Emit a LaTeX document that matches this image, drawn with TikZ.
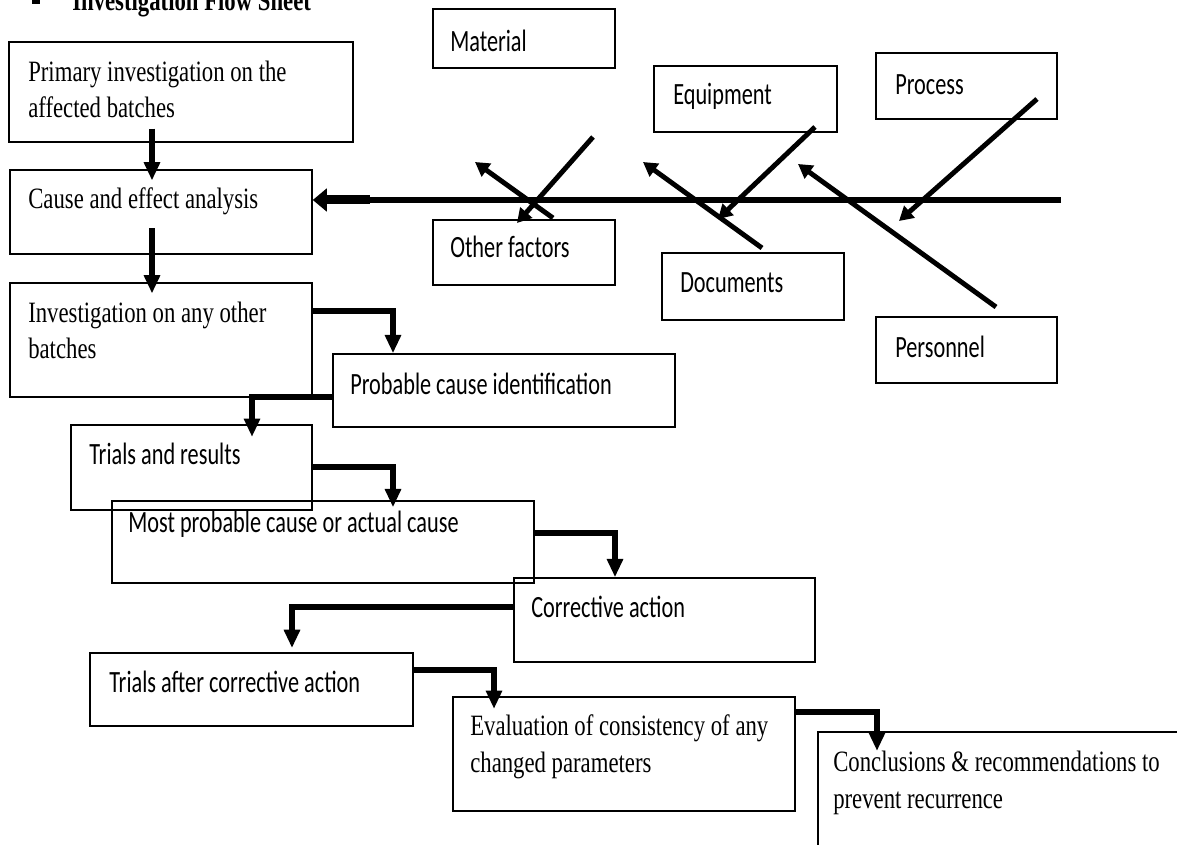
\documentclass[tikz,border=0pt]{standalone}
\usepackage{fontspec}
\setmainfont{Liberation Serif}[FakeStretch=0.77]
\newfontfamily\calibri{Carlito}[FakeStretch=0.72]
\usetikzlibrary{arrows.meta,fit}

\begin{document}
\begin{tikzpicture}[x=0.025cm, y=-0.025cm,
    box/.style={draw, line width=1.1pt, inner sep=0pt},
    serif/.style={anchor=base west, align=left, inner sep=0pt, font=\fontsize{21pt}{26pt}\selectfont},
    sans/.style={anchor=base west, inner sep=0pt, font=\calibri\fontsize{22pt}{26pt}\selectfont},
    flow/.style={line width=4pt, -{Triangle[length=13pt,width=11pt]}},
    rib/.style={line width=3.5pt, -{Triangle[length=10pt,width=11pt]}}]
    \useasboundingbox (0,0) rectangle (1177,845);
    % heading, cut at the top of the page
    \fill (32,-5) rectangle (40,4);
    \node[serif, font=\bfseries\fontsize{21pt}{25pt}\selectfont] (title) at (72,11) {Investigation Flow Sheet};

    % flow sheet boxes
    \node[box, fit={(9,42) (353,142)}] (prim) {};
    \node[box, fit={(10,170) (312,254)}] (cause) {};
    \node[box, fit={(10,283) (312,397)}] (inv) {};
    \node[box, fit={(333,354) (675,427)}] (prob) {};
    \node[box, fit={(71,425) (312,510)}] (trial) {};
    \node[box, fit={(112,501) (534,583)}] (most) {};
    \node[box, fit={(514,578) (815,662)}] (corr) {};
    \node[box, fit={(90,653) (413,726)}] (after) {};
    \node[box, fit={(453,697) (795,811)}] (eval) {};
    \node[box, fit={(818,732) (1190,870)}] (concl) {};

    % two-line texts sit on their last baseline
    \node[serif] (primtxt) at (28,118) {Primary investigation on the\\affected batches};
    \node[serif] (causetxt) at (28,209) {Cause and effect analysis};
    \node[serif] (invtxt) at (28,359) {Investigation on any other\\batches};
    \node[sans] (probtxt) at (350,395) {Probable cause identification};
    \node[sans] (trialtxt) at (89,465) {Trials and results};
    \node[sans] (mosttxt) at (128,532) {Most probable cause or actual cause};
    \node[sans] (corrtxt) at (531,617) {Corrective action};
    \node[sans] (aftertxt) at (109,692) {Trials after corrective action};
    \node[serif] (evaltxt) at (470,772) {Evaluation of consistency of any\\changed parameters};
    \node[serif] (concltxt) at (833,808) {Conclusions \& recommendations to\\prevent recurrence};

    % fishbone
    \node[box, fit={(433,9) (615,68)}] (mat) {};
    \node[box, fit={(654,66) (837,132)}] (equ) {};
    \node[box, fit={(876,53) (1057,119)}] (pro) {};
    \node[box, fit={(433,220) (615,285)}] (oth) {};
    \node[box, fit={(662,253) (844,320)}] (doc) {};
    \node[box, fit={(876,317) (1057,383)}] (per) {};
    \node[sans] (mattxt) at (450,52) {Material};
    \node[sans] (equtxt) at (673,105) {Equipment};
    \node[sans] (protxt) at (895,95) {Process};
    \node[sans] (othtxt) at (450,258) {Other factors};
    \node[sans] (doctxt) at (680,293) {Documents};
    \node[sans] (pertxt) at (895,358) {Personnel};

    \coordinate (tail) at (1061,200);
    \coordinate (neck) at (370,200);
    \draw[line width=4.3pt] (tail) -- (neck);
    \draw[line width=6.4pt, -{Triangle[length=10pt,width=16pt]}] (neck) -- (cause.east |- neck);

    \coordinate (matA) at (593,137); \coordinate (matB) at (517,223);
    \coordinate (othA) at (553,218); \coordinate (othB) at (475,162);
    \coordinate (equA) at (815,127); \coordinate (equB) at (718,219);
    \coordinate (docA) at (762,248); \coordinate (docB) at (643,162);
    \coordinate (proA) at (1037,99); \coordinate (proB) at (899,221);
    \coordinate (perA) at (996,307); \coordinate (perB) at (798,164);
    \draw[rib] (matA) -- (matB);
    \draw[rib] (othA) -- (othB);
    \draw[rib] (equA) -- (equB);
    \draw[rib] (docA) -- (docB);
    \draw[rib] (proA) -- (proB);
    \draw[rib] (perA) -- (perB);

    % flow connectors
    \draw[flow, shorten <=-10pt, shorten >=-8pt] (prim.south -| 152,0) -- (cause.north -| 152,0);
    \draw[flow, shorten <=-19pt, shorten >=-8pt] (cause.south -| 152,0) -- (inv.north -| 152,0);
    \draw[flow] (inv.east |- 0,311) -| (prob.north -| 393,0);
    \draw[flow, shorten >=-9pt] (prob.west |- 0,397) -| (trial.north -| 252,0);
    \draw[flow, shorten >=-5pt] (trial.east |- 0,467) -| (most.north -| 393,0);
    \draw[flow] (most.east |- 0,533) -| (corr.north -| 615,0);
    \draw[flow, shorten >=3pt] (corr.west |- 0,607) -| (after.north -| 292,0);
    \draw[flow, shorten >=-9pt] (after.east |- 0,670) -| (eval.north -| 494,0);
    \draw[flow, shorten >=-14pt] (eval.east |- 0,712) -| (concl.north -| 877,0);
\end{tikzpicture}
\end{document}
